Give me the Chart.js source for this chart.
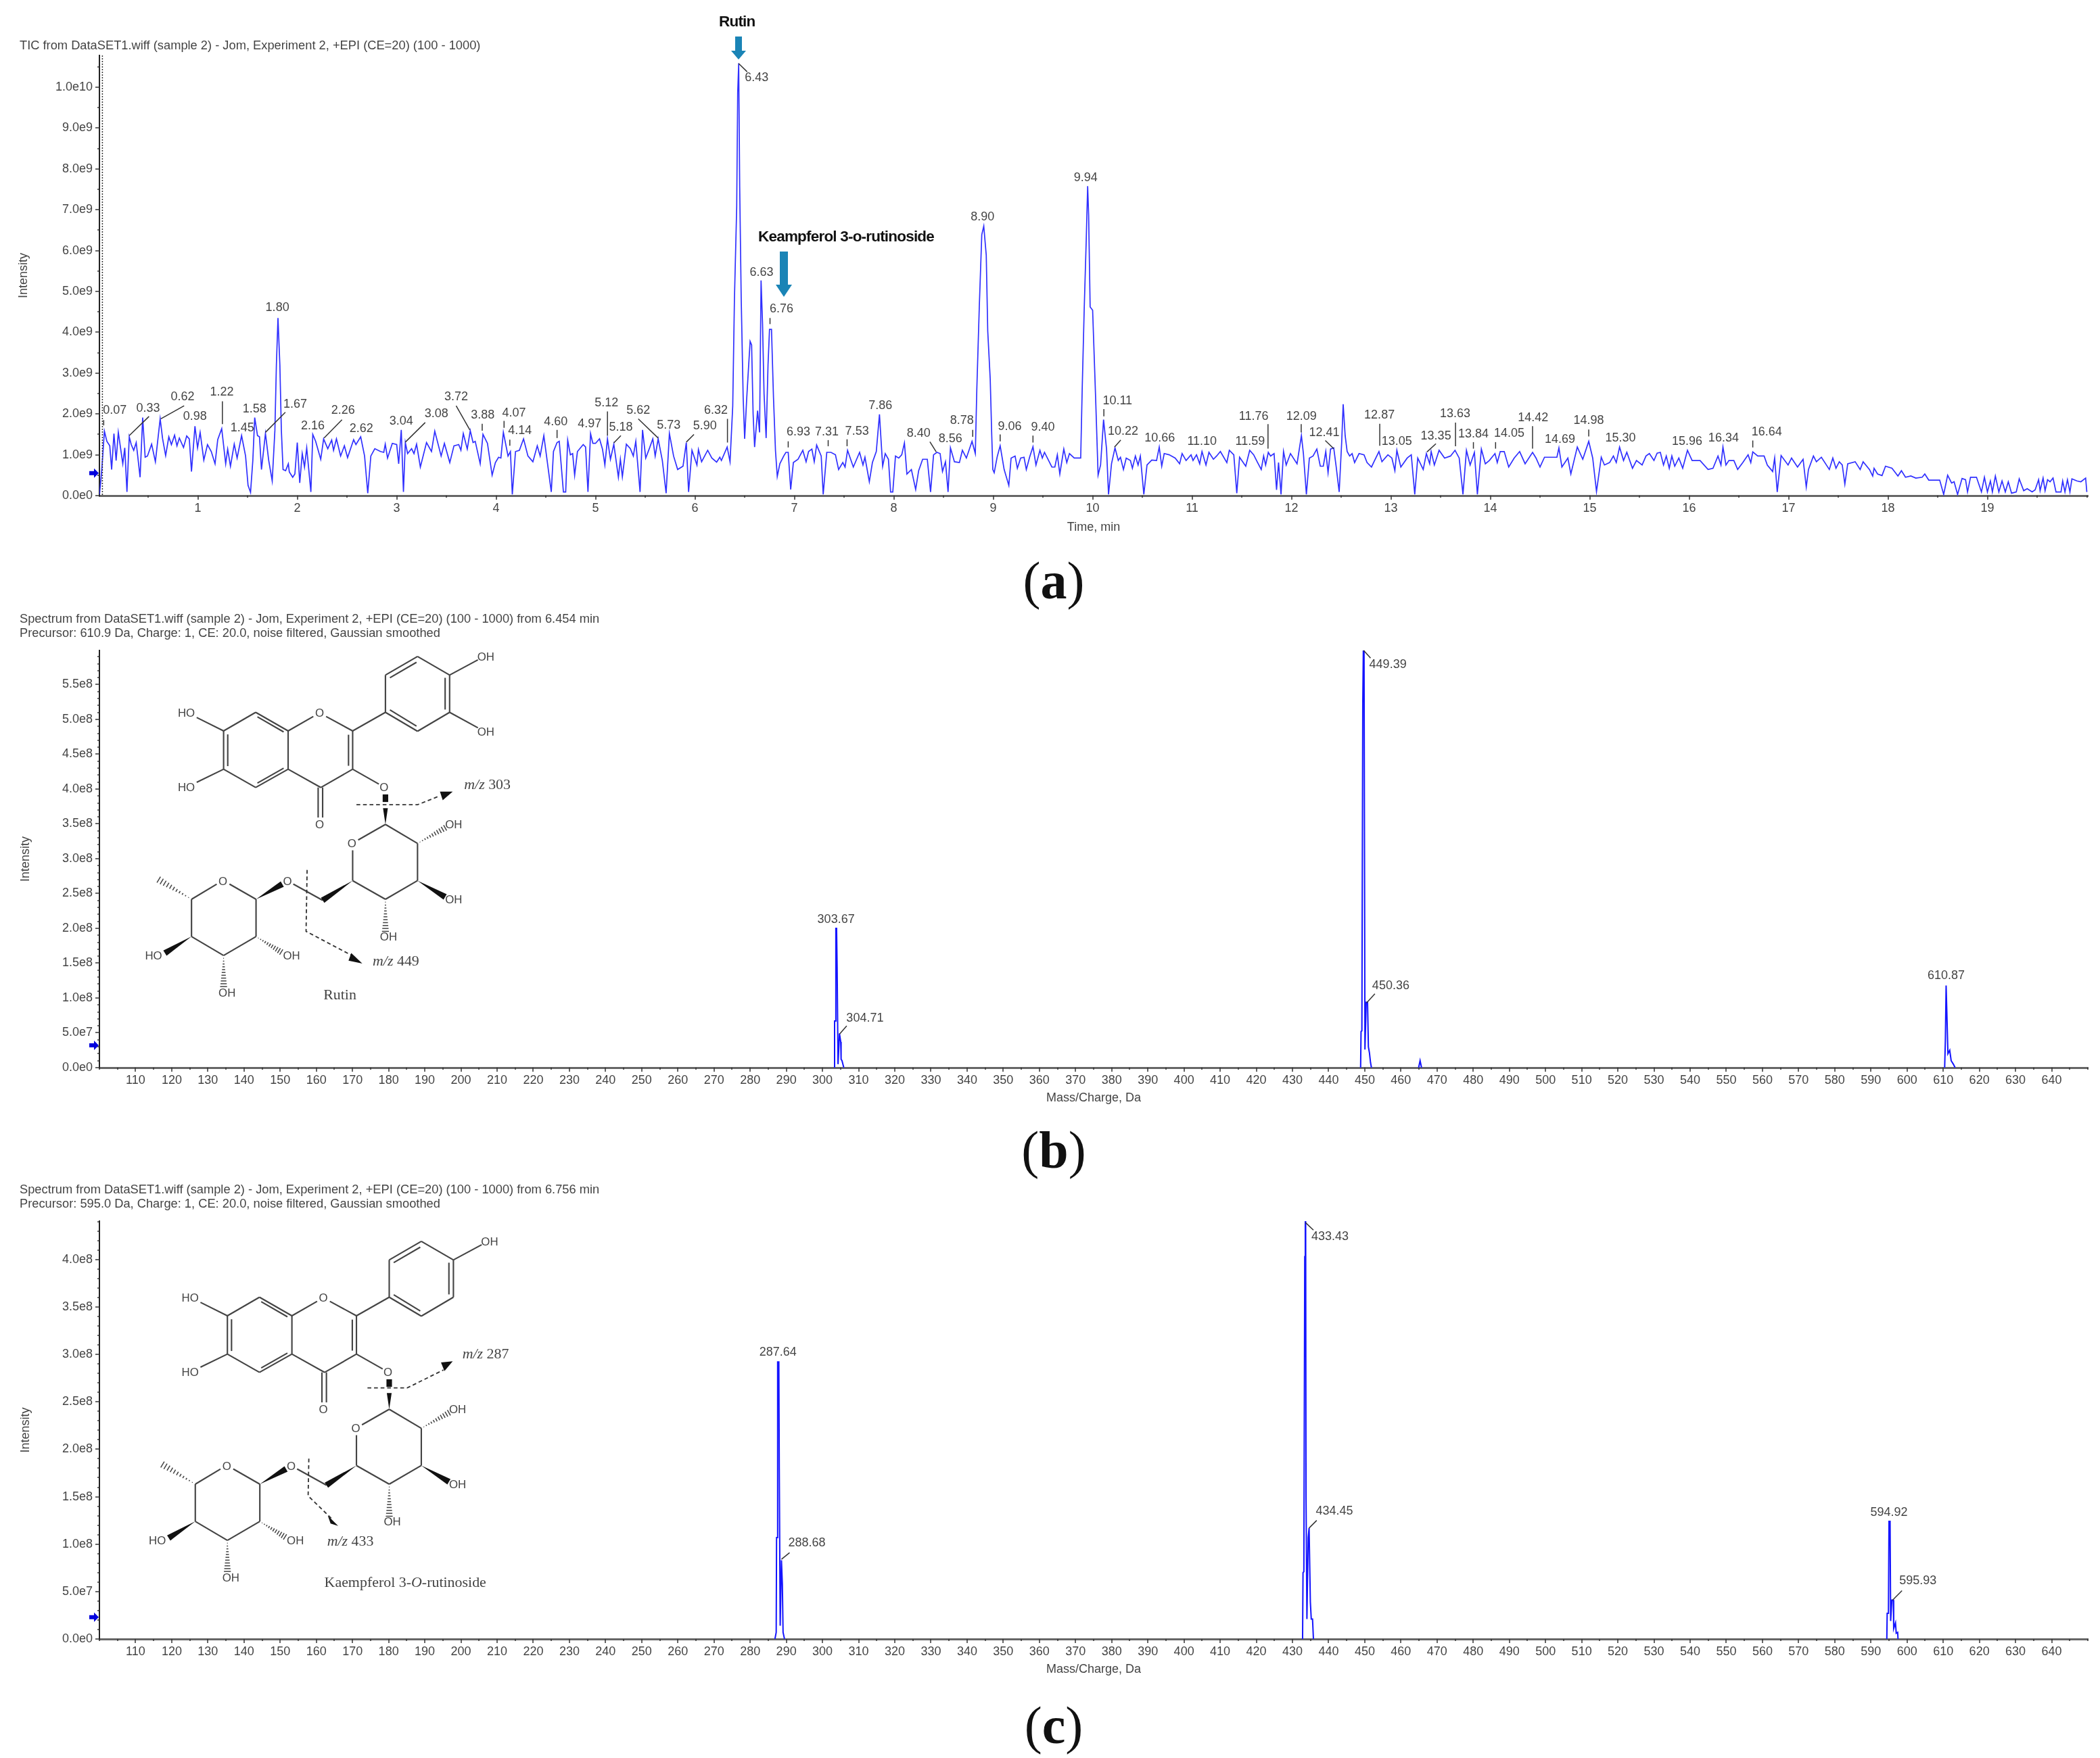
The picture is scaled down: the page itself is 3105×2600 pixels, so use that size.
<!DOCTYPE html>
<html lang="en">
<head>
    <meta charset="UTF-8">
    <title>TIC and product ion spectra of rutin and kaempferol 3-O-rutinoside</title>
    <script src="https://cdn.jsdelivr.net/npm/chart.js"></script>
    <style>
        body { margin: 0; background: #fff; width: 3105px; height: 2600px; position: relative; overflow: hidden; font-family: "Liberation Sans", Arial, sans-serif; }
        canvas { position: absolute; left: 0; }
        .head { position: absolute; left: 29px; font-size: 18.3px; line-height: 21px; color: #444; white-space: pre; }
        .tag { position: absolute; font-size: 22.5px; font-weight: bold; color: #111; letter-spacing: -0.8px; white-space: pre; }
        .cap { position: absolute; left: 1458px; width: 200px; text-align: center; font-family: "Liberation Serif", serif; font-size: 78px; line-height: 80px; color: #111; }
        svg { position: absolute; left: 0; top: 0; }
    </style>
</head>
<body>
    <canvas id="ticChart" width="3105" height="800" style="top:0"></canvas>
    <canvas id="rutinChart" width="3105" height="735" style="top:900px"></canvas>
    <canvas id="kaempChart" width="3105" height="735" style="top:1745px"></canvas>
    <svg id="overlay" width="3105" height="2600"></svg>

    <div class="head" style="top:56px">TIC from DataSET1.wiff (sample 2) - Jom, Experiment 2, +EPI (CE=20) (100 - 1000)</div>
    <div class="head" style="top:904px">Spectrum from DataSET1.wiff (sample 2) - Jom, Experiment 2, +EPI (CE=20) (100 - 1000) from 6.454 min
Precursor: 610.9 Da, Charge: 1, CE: 20.0, noise filtered, Gaussian smoothed</div>
    <div class="head" style="top:1748px">Spectrum from DataSET1.wiff (sample 2) - Jom, Experiment 2, +EPI (CE=20) (100 - 1000) from 6.756 min
Precursor: 595.0 Da, Charge: 1, CE: 20.0, noise filtered, Gaussian smoothed</div>
    <div class="tag" style="left:1063px;top:19px">Rutin</div>
    <div class="tag" style="left:1121px;top:337px">Keampferol 3-o-rutinoside</div>
    <div class="cap" style="top:819px">(<b>a</b>)</div>
    <div class="cap" style="top:1661px">(<b>b</b>)</div>
    <div class="cap" style="top:2512px">(<b>c</b>)</div>

    <script>
        // TIC trace: [time in min, intensity in 1e9]
        const ticStart = [
            [0.011,0.03],[0.034,0.64],[0.06,1.58],[0.085,1.33],[0.114,1.22],[0.133,0.64],[0.156,1.52],[0.178,0.86],[0.2,1.55],[0.245,0.78],[0.265,1.17],[0.287,0.09],[0.31,1.44],[0.33,1.25],[0.355,1.11],[0.38,1.3],[0.419,0.45],[0.445,1.91],[0.47,0.94],[0.493,0.97],[0.535,1.26],[0.573,0.83],[0.621,1.88],[0.645,1.4],[0.676,0.98],[0.708,1.44],[0.734,1.25],[0.766,1.48],[0.79,1.22],[0.814,1.41],[0.856,1.18],[0.888,1.46],[0.914,1.39],[0.936,0.59],[0.971,1.7],[0.997,1.17],[1.023,1.55],[1.06,0.87],[1.097,1.25],[1.135,1.08],[1.173,0.78],[1.2,1.37],[1.24,1.64],[1.28,0.78],[1.3,1.14],[1.328,0.72],[1.366,1.26],[1.395,0.92],[1.44,1.47],[1.48,0.97],[1.505,0.25],[1.53,0.08],[1.553,0.86],[1.572,1.91],[1.6,1.47],[1.62,1.44],[1.64,0.64],[1.68,1.52],[1.713,0.86],[1.748,0.36],[1.775,1.6],[1.79,3.2],[1.806,4.35],[1.825,3.2],[1.84,1.6],[1.857,0.64],[1.883,0.61],[1.91,0.78],[1.92,0.58],[1.954,0.45],[1.976,0.53],[2.0,1.3],[2.025,0.31],[2.05,1.03],[2.073,0.7],[2.095,1.17],[2.137,0.09],[2.156,1.5],[2.185,1.33],[2.236,0.89],[2.265,1.39],[2.307,1.15],[2.346,1.36],[2.365,1.11],[2.394,1.39],[2.436,0.97],[2.474,1.22],[2.506,0.93],[2.567,1.37],[2.59,1.25],[2.638,1.44],[2.677,0.97],[2.709,0.06],[2.74,0.97],[2.78,1.15],[2.837,1.08],[2.87,1.06],[2.885,1.26],[2.908,0.92],[2.956,1.28],[3.0,1.25],[3.02,0.78],[3.046,1.61],[3.068,0.09],[3.087,1.3],[3.11,1.03],[3.15,1.15],[3.174,1.03],[3.2,1.26],[3.238,0.7],[3.3,1.3],[3.35,1.08],[3.383,1.58],[3.447,0.97],[3.48,1.28],[3.534,0.81],[3.576,1.22],[3.624,1.25],[3.646,1.11],[3.67,1.52],[3.71,1.14],[3.74,1.59],[3.768,1.3],[3.79,1.33],[3.84,0.78],[3.868,1.5],[3.913,1.28],[3.96,0.5],[3.993,0.81],[4.025,0.94],[4.048,0.92],[4.073,1.55],[4.12,0.97],[4.144,1.08],[4.163,0.03],[4.195,1.08],[4.234,1.11],[4.276,1.39],[4.32,0.97],[4.37,0.83],[4.414,1.22],[4.443,0.97],[4.48,1.47],[4.555,0.09],[4.577,1.08],[4.613,1.3],[4.635,1.33],[4.677,0.09],[4.7,0.09],[4.72,1.36],[4.747,1.0],[4.77,1.03],[4.79,0.5],[4.818,1.08],[4.876,1.25],[4.9,1.19],[4.924,0.09],[4.95,1.52],[4.973,1.28]
        ];
        const ticMiddle = [
            [5.0,1.28],[5.04,1.39],[5.07,1.14],[5.094,0.75],[5.12,1.39],[5.15,0.89],[5.184,1.26],[5.23,0.45],[5.25,0.89],[5.27,0.46],[5.31,1.26],[5.35,1.15],[5.38,0.97],[5.405,1.33],[5.448,0.09],[5.473,1.61],[5.505,0.92],[5.544,1.17],[5.576,1.39],[5.6,0.97],[5.63,1.39],[5.672,0.86],[5.71,0.06],[5.743,1.52],[5.785,0.97],[5.826,0.64],[5.88,0.72],[5.913,1.3],[5.936,0.09],[5.97,1.11],[6.02,0.75],[6.035,1.13],[6.067,0.83],[6.128,1.11],[6.17,0.92],[6.218,0.82],[6.25,0.94],[6.266,0.86],[6.324,1.19],[6.353,0.83],[6.38,2.19],[6.397,4.79],[6.42,7.07],[6.43,9.86],[6.44,10.59],[6.45,7.58],[6.465,4.87],[6.485,2.4],[6.5,1.39],[6.52,2.35],[6.54,3.18],[6.555,3.78],[6.57,3.69],[6.585,2.0],[6.6,1.19],[6.63,2.08],[6.65,1.55],[6.665,5.27],[6.68,4.2],[6.695,2.5],[6.716,1.41],[6.735,3.2],[6.75,4.07],[6.77,4.07],[6.79,2.4],[6.81,1.1],[6.828,0.47],[6.854,0.78],[6.893,0.97],[6.915,1.06],[6.938,1.06],[6.963,0.15],[6.99,0.81],[7.037,0.89],[7.085,1.11],[7.118,0.83],[7.143,1.08],[7.176,1.14],[7.2,0.83],[7.224,1.24],[7.27,0.97],[7.29,0.03],[7.326,1.06],[7.368,1.06],[7.413,1.0],[7.445,0.64],[7.487,0.81],[7.51,0.7],[7.535,1.11],[7.593,0.7],[7.656,1.06],[7.69,0.75],[7.71,0.94],[7.754,0.34],[7.785,0.81],[7.824,1.08],[7.856,1.99],[7.888,0.72],[7.914,1.03],[7.946,0.89],[7.968,0.09],[7.99,0.09],[8.017,0.97],[8.05,0.92],[8.08,1.0],[8.107,1.29],[8.132,0.53],[8.177,0.64],[8.22,0.15],[8.25,0.61],[8.29,0.89],[8.337,0.89],[8.37,0.09],[8.4,1.0],[8.434,1.06],[8.466,1.03],[8.49,0.59],[8.52,0.83],[8.546,0.09],[8.57,1.17],[8.61,0.83],[8.66,0.81],[8.69,1.11],[8.73,0.92],[8.787,1.33],[8.82,1.03],[8.835,2.59],[8.86,4.62],[8.885,6.39],[8.905,6.6],[8.93,5.89],[8.945,4.03],[8.97,2.85],[8.985,1.5],[8.996,0.64],[9.01,0.56],[9.04,0.95],[9.07,1.22],[9.11,0.64],[9.157,0.25],[9.18,0.92],[9.22,0.97],[9.243,0.67],[9.276,0.92],[9.31,0.94],[9.333,0.64],[9.366,0.94],[9.4,1.2],[9.43,0.75],[9.47,1.11],[9.494,0.92],[9.516,1.06],[9.59,0.7],[9.62,0.7],[9.645,1.0],[9.67,0.53],[9.71,1.14],[9.74,0.81],[9.767,1.03],[9.815,0.92],[9.88,0.92],[9.895,2.59],[9.915,4.54],[9.935,6.2],[9.95,7.58],[9.96,6.86],[9.975,4.62],[10.0,4.54],[10.03,2.4]
        ];
        const ticLate = [
            [10.055,0.5],[10.08,0.75],[10.11,1.86],[10.14,1.14],[10.16,0.03],[10.19,0.78],[10.225,1.17],[10.258,0.86],[10.28,0.94],[10.31,0.64],[10.338,0.92],[10.38,0.86],[10.4,0.67],[10.43,0.97],[10.457,0.75],[10.48,0.97],[10.515,0.03],[10.547,0.75],[10.595,0.87],[10.643,0.86],[10.67,1.19],[10.695,0.72],[10.72,1.03],[10.77,1.0],[10.83,0.92],[10.875,0.78],[10.9,1.03],[10.94,0.86],[10.99,1.0],[11.01,0.86],[11.045,1.0],[11.077,0.78],[11.1,1.08],[11.14,0.75],[11.17,1.06],[11.215,0.89],[11.247,0.97],[11.285,1.08],[11.35,0.81],[11.375,1.11],[11.42,1.0],[11.45,0.06],[11.478,0.94],[11.54,0.72],[11.58,1.11],[11.62,1.0],[11.655,0.83],[11.696,0.64],[11.72,0.97],[11.74,0.75],[11.767,1.06],[11.79,0.97],[11.825,1.03],[11.85,0.14],[11.87,0.81],[11.895,0.03],[11.92,1.08],[11.947,0.75],[11.99,1.03],[12.056,0.78],[12.1,1.47],[12.12,1.03],[12.15,0.03],[12.18,0.92],[12.217,0.97],[12.255,1.14],[12.29,0.72],[12.32,0.72],[12.345,1.08],[12.368,0.56],[12.393,1.14],[12.425,1.17],[12.45,0.7],[12.48,0.09],[12.505,1.3],[12.52,2.24],[12.54,1.47],[12.56,1.08],[12.585,0.97],[12.61,1.03],[12.635,0.81],[12.68,1.03],[12.73,1.0],[12.76,0.81],[12.805,0.7],[12.83,0.83],[12.88,1.08],[12.91,0.83],[12.97,1.0],[13.01,0.92],[13.04,0.61],[13.06,1.11],[13.1,0.7],[13.164,0.92],[13.205,1.0],[13.24,0.03],[13.27,0.92],[13.325,0.64],[13.357,1.03],[13.39,0.78],[13.405,1.08],[13.437,0.75],[13.485,1.11],[13.54,0.92],[13.6,0.97],[13.645,1.11],[13.687,0.92],[13.725,0.03],[13.76,1.11],[13.797,0.75],[13.84,1.06],[13.87,0.03],[13.91,1.14],[13.95,0.78],[13.99,0.86],[14.047,1.03],[14.07,0.81],[14.1,1.08],[14.14,1.08],[14.185,0.7],[14.24,0.92],[14.295,1.08],[14.35,0.78],[14.425,1.06],[14.46,0.92],[14.5,0.7],[14.545,0.94],[14.67,0.94],[14.69,1.17],[14.72,0.7],[14.78,0.92],[14.81,0.53],[14.875,1.19],[14.93,0.89],[14.99,1.33],[15.03,0.92],[15.068,0.1]
        ];
        const ticEnd = [
            [15.116,0.94],[15.148,0.75],[15.2,0.81],[15.238,0.97],[15.267,0.81],[15.3,1.19],[15.34,0.86],[15.373,1.06],[15.43,0.67],[15.47,0.86],[15.527,0.75],[15.566,0.97],[15.6,1.03],[15.646,0.86],[15.678,1.04],[15.71,1.06],[15.742,0.75],[15.77,0.97],[15.8,0.67],[15.826,0.97],[15.855,0.72],[15.896,0.92],[15.935,0.67],[15.983,1.11],[16.03,0.86],[16.11,0.86],[16.19,0.64],[16.24,0.67],[16.29,0.97],[16.32,0.75],[16.34,1.19],[16.37,0.75],[16.4,0.86],[16.45,0.86],[16.488,0.64],[16.54,0.81],[16.593,1.0],[16.62,0.81],[16.64,1.07],[16.69,0.97],[16.754,0.97],[16.786,0.75],[16.84,0.59],[16.86,0.92],[16.886,0.09],[16.925,0.98],[16.995,0.75],[17.03,0.92],[17.09,0.7],[17.146,0.89],[17.178,0.21],[17.2,0.64],[17.25,0.97],[17.28,0.83],[17.33,0.94],[17.41,0.64],[17.445,0.92],[17.477,0.67],[17.51,0.83],[17.54,0.75],[17.566,0.28],[17.595,0.78],[17.67,0.83],[17.72,0.64],[17.75,0.83],[17.814,0.64],[17.846,0.48],[17.86,0.67],[17.895,0.53],[17.94,0.49],[17.975,0.72],[18.04,0.67],[18.1,0.48],[18.135,0.61],[18.176,0.45],[18.23,0.48],[18.28,0.43],[18.344,0.45],[18.37,0.53],[18.41,0.38],[18.52,0.38],[18.56,0.03],[18.6,0.5],[18.64,0.31],[18.665,0.34],[18.7,0.03],[18.745,0.42],[18.78,0.39],[18.8,0.09],[18.83,0.45],[18.89,0.45],[18.94,0.09],[18.97,0.45],[19.0,0.09],[19.03,0.36],[19.05,0.09],[19.08,0.48],[19.115,0.09],[19.147,0.36],[19.18,0.09],[19.21,0.34],[19.243,0.06],[19.29,0.09],[19.32,0.41],[19.365,0.12],[19.4,0.17],[19.45,0.09],[19.48,0.14],[19.515,0.39],[19.53,0.12],[19.56,0.43],[19.58,0.12],[19.605,0.39],[19.63,0.34],[19.66,0.43],[19.69,0.09],[19.74,0.09],[19.757,0.36],[19.78,0.09],[19.805,0.39],[19.83,0.09],[19.85,0.41],[19.9,0.36],[19.94,0.34],[19.988,0.43],[20.0,0.09]
        ];

        // spectra: [m/z, intensity in 1e8]
        const rutinPeak303 = [[303.25,0],[303.35,0.67],[303.6,0.67],[303.7,2.0],[303.9,2.0],[304.05,1.45],[304.3,0.05],[304.7,0.49],[305.05,0.37],[305.15,0.12],[305.4,0.1],[305.9,0]];
        const rutinPeak449 = [[448.85,0],[448.97,0.52],[449.2,0.53],[449.45,5.23],[449.6,5.98],[449.8,5.98],[450.05,0.26],[450.4,0.94],[450.77,0.94],[451.0,0.3],[451.3,0.21],[451.6,0.07],[451.85,0]];
        const rutinPeak465 = [[464.9,0],[465.3,0.1],[465.7,0]];
        const rutinPeak610 = [[610.4,0],[610.6,0.4],[610.8,1.18],[611.0,0.8],[611.3,0.2],[611.8,0.25],[612.2,0.1],[612.8,0.05],[613.3,0]];
        const kaempPeak287 = [[286.85,0],[287.2,0.07],[287.3,1.07],[287.57,1.07],[287.6,2.92],[287.93,2.92],[288.05,1.8],[288.3,0.14],[288.65,0.83],[288.9,0.58],[289.1,0.07],[289.5,0]];
        const kaempPeak433 = [[432.8,0],[432.92,0.7],[433.15,0.71],[433.4,4.03],[433.55,4.4],[433.65,4.4],[433.75,1.5],[434.0,0.21],[434.35,1.07],[434.6,1.17],[434.95,0.39],[435.2,0.21],[435.55,0.21],[435.8,0]];
        const kaempPeak594 = [[594.4,0],[594.5,0.27],[594.85,0.27],[595.0,1.24],[595.3,1.24],[595.46,0.19],[595.8,0.41],[596.2,0.41],[596.3,0.11],[596.8,0.17],[597.0,0.06],[597.4,0.07],[597.5,0]];

        const ticPeakNames = ['0.07','0.33','0.62','0.98','1.22','1.45','1.58','1.67','1.80','2.16','2.26','2.62','3.04','3.08','3.72','3.88','4.07','4.14','4.60','4.97','5.12','5.18','5.62','5.73','5.90','6.32','6.43','6.63','6.76','6.93','7.31','7.53','7.86','8.40','8.56','8.78','8.90','9.06','9.40','9.94','10.11','10.22','10.66','11.10','11.59','11.76','12.09','12.41','12.87','13.05','13.35','13.63','13.84','14.05','14.42','14.69','14.98','15.30','15.96','16.34','16.64'];
        const rutinPeakNames = ['303.67','304.71','449.39','450.36','610.87'];
        const kaempPeakNames = ['287.64','288.68','433.43','434.45','594.92','595.93'];

        const ticXTicks = [1,2,3,4,5,6,7,8,9,10,11,12,13,14,15,16,17,18,19];
        const ticYTicks = [0,1e9,2e9,3e9,4e9,5e9,6e9,7e9,8e9,9e9,1e10];
        const massXTicks = [110,120,130,140,150,160,170,180,190,200,210,220,230,240,250,260,270,280,290,300,310,320,330,340,350,360,370,380,390,400,410,420,430,440,450,460,470,480,490,500,510,520,530,540,550,560,570,580,590,600,610,620,630,640];
        const rutinYTicks = [0,5e7,1e8,1.5e8,2e8,2.5e8,3e8,3.5e8,4e8,4.5e8,5e8,5.5e8];
        const kaempYTicks = [0,5e7,1e8,1.5e8,2e8,2.5e8,3e8,3.5e8,4e8];

        // where the peak texts sit, in axis units: text x, text y, then the leader line if there is one
        const ticLabelSpots = {
            '0.07':[.165,2.08,.053,1.85,.053,1.72],'0.33':[.5,2.14,.509,1.94,.31,1.47],'0.62':[.846,2.41,.862,2.2,.628,1.88],'0.98':[.971,1.94],
            '1.22':[1.241,2.54,1.247,2.31,1.247,1.75],'1.45':[1.447,1.66],'1.58':[1.569,2.12],'1.67':[1.98,2.24,1.88,2.04,1.68,1.55],'1.80':[1.8,4.6],
            '2.16':[2.156,1.7],'2.26':[2.46,2.09,2.45,1.86,2.27,1.41],'2.62':[2.645,1.64],'3.04':[3.046,1.82],'3.08':[3.4,2.0,3.287,1.79,3.087,1.31],
            '3.72':[3.598,2.41,3.598,2.2,3.736,1.61],'3.88':[3.865,1.97,3.86,1.76,3.86,1.59],'4.07':[4.18,2.02,4.08,1.83,4.08,1.66],'4.14':[4.24,1.59,4.138,1.37,4.138,1.22],
            '4.60':[4.6,1.81,4.613,1.61,4.613,1.41],'4.97':[4.94,1.75],'5.12':[5.11,2.26,5.12,2.06,5.12,1.47],'5.18':[5.255,1.68,5.255,1.47,5.184,1.29],
            '5.62':[5.43,2.09,5.43,1.88,5.63,1.41],'5.73':[5.737,1.72],'5.90':[6.1,1.7,5.99,1.5,5.913,1.31],'6.32':[6.21,2.09,6.327,1.88,6.327,1.3],
            '6.43':[6.62,10.24,6.44,10.58,6.525,10.38],'6.63':[6.67,5.46],'6.76':[6.87,4.57,6.755,4.35,6.755,4.2],'6.93':[7.04,1.56,6.938,1.33,6.938,1.18],
            '7.31':[7.326,1.56,7.34,1.36,7.34,1.21],'7.53':[7.63,1.58,7.53,1.38,7.53,1.21],'7.86':[7.865,2.2],'8.40':[8.25,1.52,8.363,1.32,8.427,1.07],
            '8.56':[8.57,1.39],'8.78':[8.685,1.83,8.794,1.61,8.794,1.44],'8.90':[8.893,6.82],'9.06':[9.166,1.69,9.07,1.5,9.07,1.33],'9.40':[9.5,1.68,9.4,1.47,9.4,1.3],
            '9.94':[9.93,7.78],'10.11':[10.25,2.31,10.113,2.12,10.113,1.94],'10.22':[10.306,1.57,10.283,1.36,10.22,1.19],'10.66':[10.675,1.4],'11.10':[11.1,1.32],
            '11.59':[11.584,1.32],'11.76':[11.62,1.94,11.764,1.75,11.764,1.15],'12.09':[12.1,1.94,12.098,1.75,12.098,1.55],'12.41':[12.33,1.54,12.34,1.35,12.425,1.15],
            '12.87':[12.885,1.97,12.888,1.76,12.888,1.22],'13.05':[13.06,1.32],'13.35':[13.453,1.46,13.453,1.27,13.363,1.07],'13.63':[13.646,2.0,13.65,1.79,13.65,1.21],
            '13.84':[13.83,1.5,13.83,1.31,13.83,1.15],'14.05':[14.19,1.52,14.053,1.31,14.053,1.15],'14.42':[14.43,1.91,14.425,1.7,14.425,1.15],'14.69':[14.7,1.37],
            '14.98':[14.99,1.83,14.99,1.62,14.99,1.45],'15.30':[15.31,1.4],'15.96':[15.98,1.32],'16.34':[16.346,1.4],'16.64':[16.78,1.55,16.64,1.35,16.64,1.18]
        };
        const rutinLabelSpots = {
            '303.67':[303.75,2.13],'304.71':[311.75,.71,306.7,.6,304.7,.48],'449.39':[456.4,5.79,449.7,5.99,451.6,5.88],
            '450.36':[457.2,1.17,452.8,1.06,450.5,.93],'610.87':[610.8,1.32]
        };
        const kaempLabelSpots = {
            '287.64':[287.7,3.02],'288.68':[295.7,1.01,290.9,.91,288.65,.84],'433.43':[440.4,4.24,433.6,4.39,435.8,4.31],
            '434.45':[441.6,1.35,436.7,1.25,434.6,1.17],'594.92':[595,1.33],'595.93':[603,.61,598.6,.51,596,.41]
        };

        const textGrey = '#444';
        const sansFont = '"Liberation Sans", Arial, sans-serif';

        function expLabel(v) {
            return v === 0 ? '0.0e0' : v.toExponential(1).replace('+', '');
        }

        // axis furniture and peak texts that Chart.js has no option for
        const peakPlugin = {
            id: 'peakPlugin',
            afterDatasetsDraw(chart, args, o) {
                const ctx = chart.ctx, x = chart.scales.x, y = chart.scales.y, a = chart.chartArea;
                ctx.save();
                ctx.strokeStyle = '#333';
                ctx.lineWidth = 1.5;
                for (let v = 0; v <= y.max; v += o.yMinor) {
                    const major = o.yTicks.includes(v);
                    const py = Math.round(y.getPixelForValue(v));
                    ctx.beginPath(); ctx.moveTo(a.left, py); ctx.lineTo(a.left - (major ? 6 : 3), py); ctx.stroke();
                }
                for (let v = Math.ceil(x.min / o.xMinor) * o.xMinor; v <= x.max; v += o.xMinor) {
                    const major = o.xTicks.includes(v);
                    const px = Math.round(x.getPixelForValue(v));
                    ctx.beginPath(); ctx.moveTo(px, a.bottom); ctx.lineTo(px, a.bottom + (major ? 6 : 3)); ctx.stroke();
                }
                if (o.dotted !== undefined) {
                    const px = x.getPixelForValue(o.dotted);
                    ctx.setLineDash([2, 2]);
                    ctx.beginPath(); ctx.moveTo(px, a.top); ctx.lineTo(px, a.bottom); ctx.stroke();
                    ctx.setLineDash([]);
                }
                // blue threshold arrow on the y axis
                const my = y.getPixelForValue(o.marker);
                ctx.fillStyle = '#0000dd';
                ctx.beginPath();
                ctx.moveTo(a.left - 15, my - 3); ctx.lineTo(a.left - 8, my - 3); ctx.lineTo(a.left - 8, my - 7);
                ctx.lineTo(a.left - 1, my); ctx.lineTo(a.left - 8, my + 7); ctx.lineTo(a.left - 8, my + 3); ctx.lineTo(a.left - 15, my + 3);
                ctx.closePath(); ctx.fill();
                // peak labels
                ctx.font = '18px ' + sansFont;
                ctx.fillStyle = textGrey;
                ctx.textAlign = 'center';
                ctx.textBaseline = 'middle';
                o.names.forEach(name => {
                    const s = o.spots[name];
                    ctx.fillText(name, x.getPixelForValue(s[0]), y.getPixelForValue(s[1] * o.unit));
                    if (s.length > 2) {
                        ctx.beginPath();
                        ctx.moveTo(x.getPixelForValue(s[2]), y.getPixelForValue(s[3] * o.unit));
                        ctx.lineTo(x.getPixelForValue(s[4]), y.getPixelForValue(s[5] * o.unit));
                        ctx.stroke();
                    }
                });
                ctx.restore();
            }
        };

        function makeChart(id, p) {
            return new Chart(document.getElementById(id), {
                type: 'scatter',
                plugins: [peakPlugin],
                data: {
                    datasets: p.traces.map(tr => ({
                        data: tr.map(d => ({ x: d[0], y: d[1] * p.unit })),
                        showLine: true,
                        tension: 0,
                        pointRadius: 0,
                        borderColor: p.color,
                        borderWidth: p.lineWidth
                    }))
                },
                options: {
                    responsive: false,
                    animation: false,
                    devicePixelRatio: 1,
                    layout: { padding: { top: p.areaTop, right: 18, left: 0, bottom: 0 } },
                    plugins: {
                        legend: { display: false },
                        tooltip: { enabled: false },
                        peakPlugin: { yMinor: p.yMinor, xMinor: p.xMinor, yTicks: p.yTicks, xTicks: p.xTicks, marker: p.marker, dotted: p.dotted, names: p.names, spots: p.spots, unit: p.unit }
                    },
                    scales: {
                        x: {
                            type: 'linear', min: p.xMin, max: p.xMax,
                            afterFit: s => { s.height = p.height - p.areaBottom; },
                            afterBuildTicks: s => { s.ticks = p.xTicks.map(v => ({ value: v })); },
                            grid: { display: false, drawTicks: false },
                            border: { color: '#666', width: 3 },
                            ticks: { padding: 8, autoSkip: false, maxRotation: 0, color: textGrey, font: { family: sansFont, size: 18 }, callback: v => String(v) },
                            title: { display: true, text: p.xTitle, color: textGrey, font: { family: sansFont, size: 18 }, padding: { top: 0, bottom: p.xTitlePad } }
                        },
                        y: {
                            type: 'linear', min: 0, max: p.yMax,
                            afterFit: s => { s.width = 147; },
                            afterBuildTicks: s => { s.ticks = p.yTicks.map(v => ({ value: v })); },
                            grid: { display: false, drawTicks: false },
                            border: { color: '#222', width: 2 },
                            ticks: { padding: 10, autoSkip: false, color: textGrey, font: { family: sansFont, size: 18 }, callback: expLabel },
                            title: { display: true, text: 'Intensity', color: textGrey, font: { family: sansFont, size: 18 }, padding: { top: p.yTitlePad, bottom: 0 } }
                        }
                    }
                }
            });
        }

        makeChart('ticChart', {
            traces: [[...ticStart, ...ticMiddle, ...ticLate, ...ticEnd]], unit: 1e9, color: '#3030ff', lineWidth: 1.7,
            height: 800, areaTop: 82, areaBottom: 733, xMin: 0.01, xMax: 20.01, yMax: 1.078e10,
            xTicks: ticXTicks, yTicks: ticYTicks, xMinor: 0.5, yMinor: 5e8, marker: 0.55e9, dotted: 0.04,
            xTitle: 'Time, min', xTitlePad: 9, yTitlePad: 24, names: ticPeakNames, spots: ticLabelSpots
        });
        makeChart('rutinChart', {
            traces: [rutinPeak303, rutinPeak449, rutinPeak465, rutinPeak610], unit: 1e8, color: '#1414ff', lineWidth: 2,
            height: 735, areaTop: 62, areaBottom: 679, xMin: 100, xMax: 650, yMax: 5.99e8,
            xTicks: massXTicks, yTicks: rutinYTicks, xMinor: 5, yMinor: 1e7, marker: 0.32e8,
            xTitle: 'Mass/Charge, Da', xTitlePad: 0, yTitlePad: 27, names: rutinPeakNames, spots: rutinLabelSpots
        });
        makeChart('kaempChart', {
            traces: [kaempPeak287, kaempPeak433, kaempPeak594], unit: 1e8, color: '#1414ff', lineWidth: 2,
            height: 735, areaTop: 61, areaBottom: 679, xMin: 100, xMax: 650, yMax: 4.405e8,
            xTicks: massXTicks, yTicks: kaempYTicks, xMinor: 5, yMinor: 1e7, marker: 0.23e8,
            xTitle: 'Mass/Charge, Da', xTitlePad: 0, yTitlePad: 27, names: kaempPeakNames, spots: kaempLabelSpots
        });

        // structures and marker arrows, not chart data
        const ink = '#444';
        function bond(list) {
            return list.map(b => `<line x1="${b[0]}" y1="${b[1]}" x2="${b[2]}" y2="${b[3]}" stroke="${ink}" stroke-width="4.2"/>`).join('');
        }
        function wedge(x1, y1, x2, y2, w) {
            const l = Math.hypot(x2 - x1, y2 - y1), nx = -(y2 - y1) / l * w / 2, ny = (x2 - x1) / l * w / 2;
            return `<polygon points="${x1},${y1} ${x2 + nx},${y2 + ny} ${x2 - nx},${y2 - ny}" fill="#111"/>`;
        }
        function hash(x1, y1, x2, y2, w) {
            const l = Math.hypot(x2 - x1, y2 - y1), nx = -(y2 - y1) / l, ny = (x2 - x1) / l;
            let out = '';
            for (let i = 1; i <= 11; i++) {
                const f = i / 11, cx = x1 + (x2 - x1) * f, cy = y1 + (y2 - y1) * f, h = w / 2 * f;
                out += `<line x1="${cx + nx * h}" y1="${cy + ny * h}" x2="${cx - nx * h}" y2="${cy - ny * h}" stroke="${ink}" stroke-width="3"/>`;
            }
            return out;
        }
        function atom(t, x, y) {
            return `<text x="${x}" y="${y + 12}" text-anchor="middle" font-size="33" fill="${ink}" font-family='${sansFont}'>${t}</text>`;
        }
        function serif(inner, x, y, anchor) {
            return `<text x="${x}" y="${y + 14}" text-anchor="${anchor || 'start'}" font-size="43" fill="${ink}" font-family="Liberation Serif, serif">${inner}</text>`;
        }
        function dashes(pts) {
            return `<polyline points="${pts}" fill="none" stroke="#333" stroke-width="3.6" stroke-dasharray="11 8"/>`;
        }
        function skeleton() {
            return bond([
                [648,394,741,340],[741,340,835,394],[835,394,835,505],[835,505,741,558],[741,558,648,505],[648,505,648,394],
                [660,404,660,496],[746,353,822,397],[746,545,822,502],
                [835,394,908,352],[945,352,1022,394],[1022,394,1022,505],[1010,405,1010,495],[1022,505,930,558],[930,558,835,505],
                [922,558,922,645],[935,558,935,645],
                [1022,394,1117,340],[1117,340,1117,232],[1117,232,1210,178],[1210,178,1303,232],[1303,232,1303,340],[1303,340,1210,395],[1210,395,1117,340],
                [1130,240,1207,195],[1290,240,1290,332],[1130,333,1207,380],
                [1303,232,1385,188],[570,355,648,394],[570,543,648,505],[1022,505,1098,548],
                [1117,665,1038,710],[1117,665,1210,720],[1210,720,1210,828],[1210,828,1117,882],[1117,882,1022,828],[1022,828,1022,740],
                [935,885,850,838],[742,882,665,838],[628,838,555,882],[555,882,555,990],[555,990,648,1045],[648,1045,742,990],[742,990,742,882]
            ]) +
            `<rect x="1109" y="578" width="16" height="22" fill="#111"/>` + wedge(1117,665,1117,618,14) +
            wedge(1022,828,935,885,18) + wedge(1210,828,1290,875,18) + wedge(742,882,818,838,18) + wedge(555,990,478,1038,18) +
            hash(1210,720,1290,675,18) + hash(1117,882,1117,975,20) + hash(555,882,460,825,20) + hash(742,990,815,1035,18) + hash(648,1045,648,1135,20) +
            atom('OH',1408,178) + atom('HO',540,340) + atom('HO',540,557) + atom('O',926,340) + atom('O',926,665) + atom('O',1113,557) +
            atom('O',1020,720) + atom('OH',1315,665) + atom('OH',1315,882) + atom('OH',1126,990) + atom('O',833,828) + atom('O',646,828) +
            atom('HO',445,1045) + atom('OH',845,1045) + atom('OH',658,1152);
        }
        const svgParts = [];
        // panel b, drawing in a 1.96x coordinate system
        svgParts.push(`<g transform="translate(0,880) scale(0.5102)">${skeleton()}` +
            bond([[1303,340,1385,385]]) + atom('OH',1408,395) +
            dashes('1033,608 1210,608 1275,582') + `<polygon points="1275,570 1312,570 1283,595" fill="#111"/>` +
            serif('<tspan font-style="italic">m/z</tspan> 303',1345,548) +
            dashes('890,797 887,975 1020,1045') + `<polygon points="1018,1038 1050,1068 1010,1060" fill="#111"/>` +
            serif('<tspan font-style="italic">m/z</tspan> 449',1080,1060) + serif('Rutin',985,1158,'middle') + `</g>`);
        // panel c uses the same skeleton, moved a little
        svgParts.push(`<g transform="translate(5.6,1745) scale(0.5102)">${skeleton()}</g>`);
        svgParts.push(`<g transform="translate(0,1720) scale(0.5102)">` +
            dashes('1065,652 1180,652 1285,600') + `<polygon points="1278,578 1312,575 1288,603" fill="#111"/>` +
            serif('<tspan font-style="italic">m/z</tspan> 287',1340,553) +
            dashes('895,857 893,965 960,1030') + `<polygon points="950,1022 980,1052 958,1045" fill="#111"/>` +
            serif('<tspan font-style="italic">m/z</tspan> 433',948,1095) +
            serif('Kaempferol 3-<tspan font-style="italic">O</tspan>-rutinoside',940,1215) + `</g>`);
        // teal arrows of panel a
        svgParts.push(`<polygon points="1087,54 1097,54 1097,75 1103,75 1092,88 1081,75 1087,75" fill="#1a84b6"/>`);
        svgParts.push(`<polygon points="1153,372 1165,372 1165,421 1171,421 1159,439 1147,421 1153,421" fill="#1a84b6"/>`);
        document.getElementById('overlay').innerHTML = svgParts.join('');
    </script>
</body>
</html>
